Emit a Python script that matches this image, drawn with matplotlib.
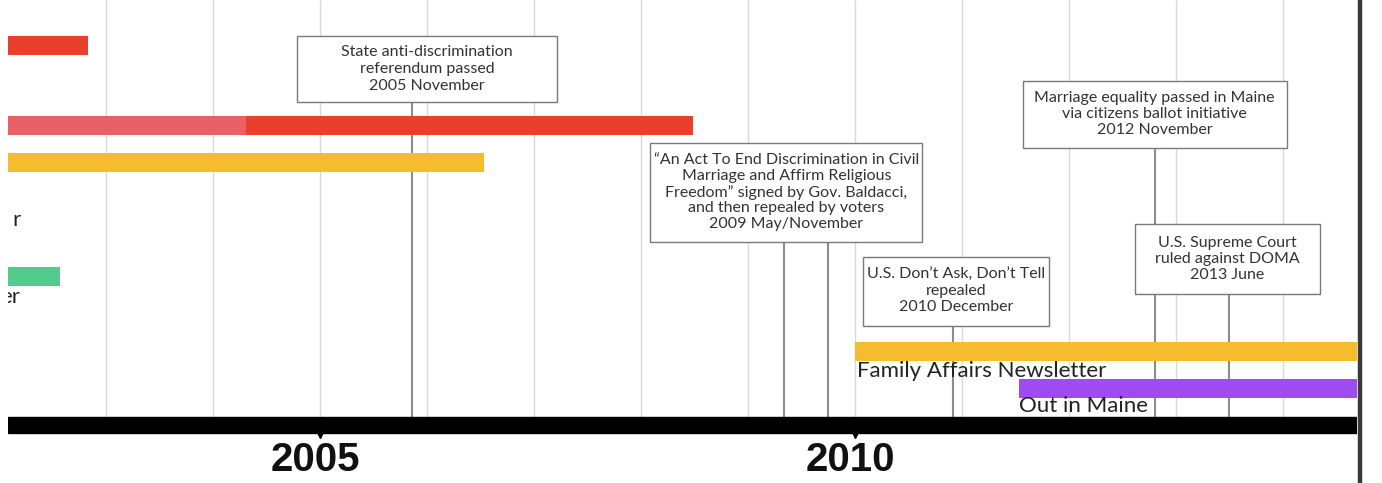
import matplotlib
matplotlib.use("Agg")
import matplotlib.pyplot as plt
from matplotlib.patches import Rectangle
from matplotlib.lines import Line2D

#data: lanes of coloured spans (years), bars that run off the picture edge start/end outside the view
bar_starts = [2001.5, 2001.5, 2004.31, 2001.5, 2001.5, 2010.0, 2011.53]
bar_ends = [2002.83, 2004.31, 2008.49, 2006.53, 2002.57, 2015.5, 2015.5]
bar_colors = ["#e8402c", "#ea5f66", "#e8402c", "#f5bd2e", "#52cc8c", "#f5bd2e", "#9e4cf2"]
bar_rows = [45, 125, 125, 162, 276, 351, 388]

#bar labels (the first two are cut off at the left edge of the screenshot)
bar_labels = ["r", "er", "Family Affairs Newsletter", "Out in Maine"]
label_x = [2002.2, 2002.2, 2010.02, 2011.53]
label_rows = [220, 297, 371, 406]
label_align = ["right", "right", "left", "left"]

#events
event_texts = [
    "State anti-discrimination\nreferendum passed\n2005 November",
    "\u201cAn Act To End Discrimination in Civil\nMarriage and Affirm Religious\n"
    "Freedom\u201d signed by Gov. Baldacci,\nand then repealed by voters\n2009 May/November",
    "U.S. Don\u2019t Ask, Don\u2019t Tell\nrepealed\n2010 December",
    "Marriage equality passed in Maine\nvia citizens ballot initiative\n2012 November",
    "U.S. Supreme Court\nruled against DOMA\n2013 June",
]
event_dates = [[2005.86], [2009.34, 2009.75], [2010.92], [2012.80], [2013.50]]

#axis
grid_years = list(range(2003, 2015))
tick_years = [2005, 2010]

#layout of the event boxes (pixels)
box_dx = [15, 2, 3, 0, -2]
box_cy = [69, 192, 291, 114, 259]
box_w = [260, 272, 186, 264, 185]
box_h = [66, 99, 69, 67, 70]
box_spacing = [1.25, 1.15, 1.2, 1.2, 1.2]

W, H = 1382, 483
fig = plt.figure(figsize=(W / 100, H / 100), dpi=100)
left_px, right_px = 8, 1357
ax = fig.add_axes([left_px / W, 0, (right_px - left_px) / W, 1])
x0, x1 = 2002.084, 2014.692
ax.set_xlim(x0, x1)
ax.set_ylim(H, 0)
ax.axis("off")
ppy = (right_px - left_px) / (x1 - x0)   # pixels per year

axis_top, axis_bot = 417, 433

#year gridlines
ax.vlines(grid_years, 0, axis_top, colors="#d9d9d9", linewidth=1, zorder=1)

#event lines and boxes
for i, txt in enumerate(event_texts):
    bottom = box_cy[i] + box_h[i] / 2
    ax.vlines(event_dates[i], bottom, axis_top, colors="#8c8c8c", linewidth=1.5, zorder=2)
    cx = event_dates[i][0] + box_dx[i] / ppy
    w = box_w[i] / ppy
    ax.add_patch(Rectangle((cx - w / 2, box_cy[i] - box_h[i] / 2), w, box_h[i],
                           facecolor="white", edgecolor="#7a7a7a", linewidth=1, zorder=4))
    ax.text(cx, box_cy[i], txt, ha="center", va="center", fontsize=11.5,
            family="Lato", color="#333333", linespacing=box_spacing[i], zorder=5)

#bars
for s, e, c, r in zip(bar_starts, bar_ends, bar_colors, bar_rows):
    ax.barh(r, e - s, left=s, height=19, color=c, zorder=3)

for t, x, r, a in zip(bar_labels, label_x, label_rows, label_align):
    ax.text(x, r, t, ha=a, va="center", fontsize=16, family="Lato",
            color="#222222", zorder=6, clip_on=True)

#time axis
ax.axhspan(axis_top, axis_bot, color="black", zorder=7)
ax.plot(tick_years, [axis_bot + 1] * len(tick_years), linestyle="none", marker="v",
        markersize=6, color="black", zorder=7)
for y in tick_years:
    ax.text(y - 0.04, 460, str(y), ha="center", va="center", fontsize=29,
            fontweight="bold", family="Liberation Sans", color="#111111")

#dark right border of the screenshot
fig.add_artist(Line2D([1359.5 / W] * 2, [0, 1], color="#3a3a3a", linewidth=3.2))

fig.savefig("out.png", dpi=100)
